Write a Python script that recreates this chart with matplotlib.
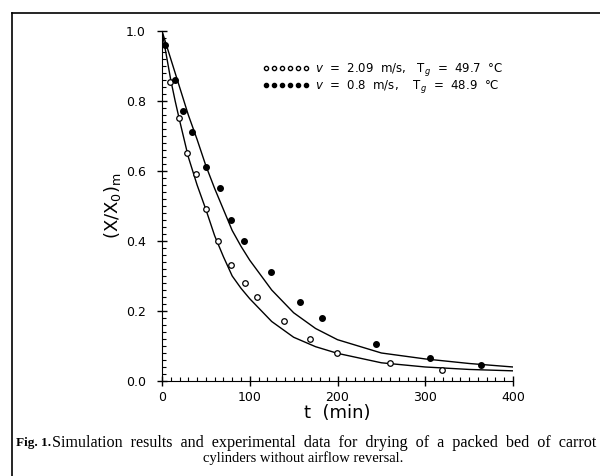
import matplotlib
matplotlib.use("Agg")
import matplotlib.pyplot as plt
from matplotlib.lines import Line2D
from matplotlib.ticker import MultipleLocator

plt.rcParams['font.family'] = ['DejaVu Sans']
plt.rcParams['mathtext.fontset'] = 'dejavusans'

# ---- simulation curves ----
t_sim = [0, 5, 10, 15, 20, 30, 40, 50, 60, 70, 80, 90, 100, 125, 150, 175, 200, 250, 300, 350, 400]
x_sim_fast = [1.0, 0.93, 0.86, 0.80, 0.745, 0.64, 0.56, 0.49, 0.415, 0.355, 0.30, 0.265, 0.235,
              0.17, 0.125, 0.098, 0.079, 0.052, 0.040, 0.033, 0.029]
x_sim_slow = [1.0, 0.96, 0.92, 0.88, 0.84, 0.76, 0.69, 0.615, 0.55, 0.49, 0.43, 0.385, 0.345,
              0.26, 0.195, 0.15, 0.118, 0.08, 0.063, 0.05, 0.04]

# ---- experimental points ----
t_exp_fast = [9, 19, 28, 39, 50, 64, 79, 95, 108, 139, 169, 199, 260, 319]
x_exp_fast = [0.855, 0.75, 0.65, 0.59, 0.49, 0.40, 0.33, 0.28, 0.24, 0.17, 0.12, 0.08, 0.05, 0.03]
t_exp_slow = [3, 15, 24, 34, 50, 66, 79, 94, 124, 157, 182, 244, 305, 364]
x_exp_slow = [0.96, 0.86, 0.77, 0.71, 0.61, 0.55, 0.46, 0.40, 0.31, 0.225, 0.18, 0.105, 0.065, 0.046]

x_ticks = [0, 100, 200, 300, 400]
y_ticks = [0.0, 0.2, 0.4, 0.6, 0.8, 1.0]

label_fast = r'$v$  =  2.09  m/s,   T$_g$  =  49.7  °C'
label_slow = r'$v$  =  0.8  m/s,    T$_g$  =  48.9  °C'

fig = plt.figure(figsize=(6.0, 4.76), dpi=100)
ax = fig.add_axes([0.27, 0.1996, 0.585, 0.7353])

ax.plot(t_sim, x_sim_fast, color='black', lw=1.0)
ax.plot(t_sim, x_sim_slow, color='black', lw=1.0)
ax.plot(t_exp_fast, x_exp_fast, ls='none', marker='o', ms=4, mfc='white', mec='black', mew=0.9)
ax.plot(t_exp_slow, x_exp_slow, ls='none', marker='o', ms=4, mfc='black', mec='black')

ax.set_xlim(0, 400)
ax.set_ylim(0, 1.0)
ax.spines['top'].set_visible(False)
ax.spines['right'].set_visible(False)
ax.set_xticks(x_ticks)
ax.set_xticklabels([str(v) for v in x_ticks])
ax.set_yticks(y_ticks)
ax.set_yticklabels(['%.1f' % v for v in y_ticks])
ax.xaxis.set_minor_locator(MultipleLocator(10))
ax.yaxis.set_minor_locator(MultipleLocator(0.02))
ax.tick_params(which='major', direction='inout', length=7, width=1, labelsize=9, colors='black')
ax.tick_params(which='minor', direction='in', length=3, width=0.8)
ax.tick_params(axis='y', pad=8)

ax.set_xlabel('t  (min)', fontsize=13, labelpad=0)
ax.set_ylabel(r'$(\mathrm{X}/\mathrm{X_0})_\mathrm{m}$', fontsize=13, labelpad=2)

handles = [Line2D([], [], ls='none', marker='o', ms=3, mfc='white', mec='black'),
           Line2D([], [], ls='none', marker='o', ms=3, mfc='black', mec='black')]
fig.legend(handles, [label_fast, label_slow], loc='upper left',
           bbox_to_anchor=(262 / 600, 1 - 61 / 476), frameon=False, numpoints=6,
           handlelength=4.0, handletextpad=0.5, labelspacing=0.0, fontsize=8.5,
           borderpad=0, borderaxespad=0)

# page frame from the scan
fig.add_artist(Line2D([12 / 600, 1.0], [1 - 13 / 476, 1 - 13 / 476], color='black', lw=1.2))
fig.add_artist(Line2D([12 / 600, 12 / 600], [0, 1 - 13 / 476], color='black', lw=1.2))

# caption
fig.text(16 / 600, 1 - 443 / 476, 'Fig. 1.', family='Liberation Serif', fontsize=9.5,
         fontweight='bold', va='center')
fig.text(52 / 600, 1 - 443 / 476,
         'Simulation  results  and  experimental  data  for  drying  of  a  packed  bed  of  carrot',
         family='Liberation Serif', fontsize=11.6, va='center')
fig.text(303 / 600, 1 - 458 / 476, 'cylinders without airflow reversal.',
         family='Liberation Serif', fontsize=10.5, va='center', ha='center')

fig.savefig('out.png', dpi=100)
